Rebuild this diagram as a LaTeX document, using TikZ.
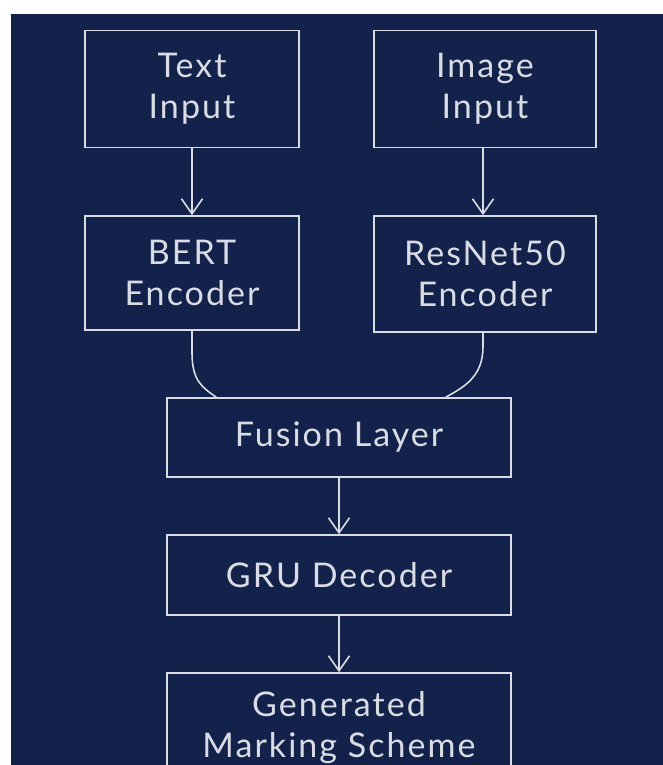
\documentclass[tikz,border=0pt]{standalone}
\usepackage{fontspec}
\setmainfont{Lato}[LetterSpace=6]
\usetikzlibrary{arrows.meta}
\definecolor{bgnavy}{HTML}{13224A}
\definecolor{chalk}{HTML}{D9DCE2}
\tikzset{
  box/.style={draw=chalk, line width=1.6pt, text=chalk, align=center, inner sep=0pt,
    font=\fontsize{34}{41}\selectfont},
  link/.style={draw=chalk, line width=1.6pt},
  arr/.style={link, -{Straight Barb[length=15pt, width=21pt, line width=1.6pt]}}
}
\begin{document}
\begin{tikzpicture}[x=1pt, y=-1pt]
\useasboundingbox (0,0) rectangle (663,765);
\clip (0,0) rectangle (663,765);
\fill[white] (0,0) rectangle (663,765);
\fill[bgnavy] (11,14) rectangle (663,765);

\node[box, minimum width=214pt, minimum height=117pt] (text) at (192,89) {Text\\Input};
\node[box, minimum width=222pt, minimum height=117pt] (image) at (485,89) {Image\\Input};
\node[box, minimum width=214pt, minimum height=114pt] (bert) at (192,273) {BERT\\Encoder};
\node[box, minimum width=222pt, minimum height=116pt] (resnet) at (485,274) {ResNet50\\Encoder};
\node[box, minimum width=344pt, minimum height=79pt] (fusion) at (339,437.5) {Fusion Layer};
\node[box, minimum width=344pt, minimum height=80pt] (gru) at (339,575) {GRU Decoder};
\node[box, minimum width=344pt, minimum height=110pt] (gen) at (339,728) {Generated\\Marking Scheme};

\draw[arr] (text.south) -- (bert.north);
\draw[arr] ([xshift=-2pt]image.south) -- ([xshift=-2pt]resnet.north);
\draw[link] (bert.south) -- ++(0,22) .. controls ++(0,28) and ++(-14,-10) .. ([xshift=50pt]fusion.north west);
\draw[link] ([xshift=-2pt]resnet.south) -- ++(0,14) .. controls ++(0,30) and ++(18,-10) .. ([xshift=-66pt]fusion.north east);
\draw[arr] (fusion.south) -- (gru.north);
\draw[arr] (gru.south) -- (gen.north);
\end{tikzpicture}
\end{document}
